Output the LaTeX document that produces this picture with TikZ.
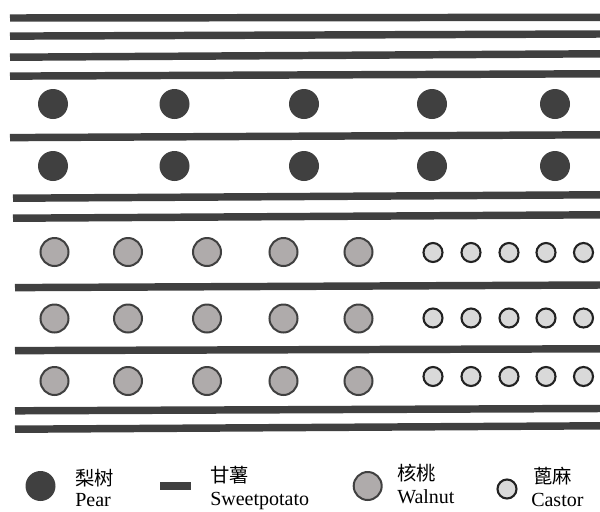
\documentclass[tikz,border=0pt]{standalone}
\usepackage{fontspec}
\setmainfont{Liberation Serif}
\newfontfamily\cjk{Noto Sans CJK SC}
\definecolor{dk}{HTML}{404040}
\definecolor{wfill}{HTML}{AFABAB}
\definecolor{cfill}{HTML}{D9D9D9}
\definecolor{cline}{HTML}{222222}
\begin{document}
\begin{tikzpicture}[x=0.75pt,y=-0.75pt,
  stripe/.style={draw=dk,line width=5.6pt},
  pear/.style={circle,fill=dk,draw=none,minimum size=22.5pt,inner sep=0pt},
  walnut/.style={circle,fill=wfill,draw=dk,line width=1.5pt,minimum size=21pt,inner sep=0pt},
  castor/.style={circle,fill=cfill,draw=cline,line width=1.6pt,minimum size=14.25pt,inner sep=0pt},
  potbar/.style={rectangle,fill=dk,draw=none,minimum width=23.25pt,minimum height=6pt,inner sep=0pt},
  zh/.style={anchor=west,inner sep=0pt,font=\cjk\fontsize{14.5pt}{17pt}\selectfont},
  en/.style={anchor=base west,inner sep=0pt,font=\fontsize{15pt}{18pt}\selectfont}]
\useasboundingbox (0,0) rectangle (600,511);
% stripes (sweet potato rows)
\foreach \i/\xl/\yl/\yr in {1/10/18/17.3,2/10/36.1/34,3/10/57.2/53.8,4/10/76.1/73.8,5/10/137.6/134.8,
  6/13/198.2/194.8,7/13/218.2/214.8,8/15/287.6/285,9/15/350.6/348.8,10/15/410.8/408.5,11/15/429.2/425.8}{
  \coordinate (sl\i) at (\xl,\yl);
  \coordinate (sr\i) at (600,\yr);
  \draw[stripe] (sl\i) -- (sr\i);
}
% pear trees
\foreach \j/\x in {1/53,2/174.5,3/304,4/432,5/555}{
  \node[pear] (pa\j) at (\x,104) {};
  \node[pear] (pb\j) at (\x,166) {};
}
% walnuts
\foreach \j/\x in {1/54.5,2/128,3/207,4/283.5,5/358.5}{
  \node[walnut] (wa\j) at (\x,252) {};
  \node[walnut] (wb\j) at (\x,318.5) {};
  \node[walnut] (wc\j) at (\x,381) {};
}
% castor
\foreach \j/\x in {1/433,2/471,3/509,4/546,5/583.5}{
  \node[castor] (ca\j) at (\x,252.5) {};
  \node[castor] (cb\j) at (\x,318) {};
  \node[castor] (cc\j) at (\x,376.5) {};
}
% legend
\node[pear] (lp) at (40.5,486) {};
\node[zh] (lpz) at (75,478) {梨树};
\node[en] (lpe) at (75,506) {Pear};
\node[potbar] (ls) at (175.5,486) {};
\node[zh] (lsz) at (210,475.5) {甘薯};
\node[en] (lse) at (210,505.5) {Sweetpotato};
\node[walnut] (lw) at (367.7,486) {};
\node[zh] (lwz) at (397,473) {核桃};
\node[en] (lwe) at (397,503.5) {Walnut};
\node[castor] (lc) at (507,489) {};
\node[zh] (lcz) at (533,476.5) {蓖麻};
\node[en] (lce) at (531,506) {Castor};
\end{tikzpicture}
\end{document}
